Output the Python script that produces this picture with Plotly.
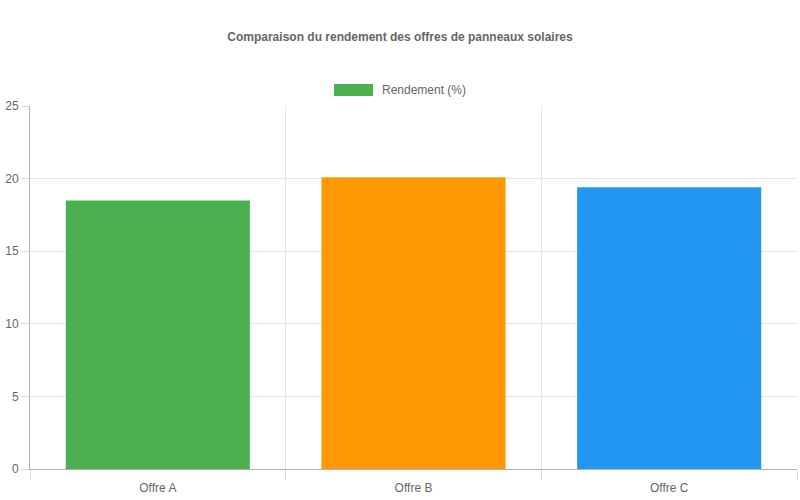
import plotly.graph_objects as go

# Données
offres = ["Offre A", "Offre B", "Offre C"]
rendement = [18.5, 20.1, 19.4]
couleurs = ["#4CAF50", "#FF9800", "#2196F3"]

# Zone de tracé (px dans la page) : x 30..797, y 106..469
fig = go.Figure()

fig.add_trace(go.Bar(
    x=offres,
    y=rendement,
    marker=dict(color=couleurs, line=dict(width=0)),
    name="Rendement (%)",
    showlegend=False,
    hoverinfo="x+y",
))

# Légende façon Chart.js (boîte large + texte)
fig.add_shape(type="rect", xref="paper", yref="paper",
              x0=(334 - 30) / 767, x1=(373 - 30) / 767,
              y0=(469 - 96) / 363, y1=(469 - 84) / 363,
              fillcolor="#4CAF50", line=dict(width=0))
fig.add_annotation(text="Rendement (%)", xref="paper", yref="paper",
                   x=(380 - 30) / 767, y=(469 - 90) / 363,
                   xanchor="left", yanchor="middle", showarrow=False,
                   font=dict(size=12, color="#666666"))

fig.update_layout(
    width=800, height=500,
    margin=dict(l=30, r=3, t=106, b=31),
    paper_bgcolor="white", plot_bgcolor="white",
    font=dict(family="Liberation Sans, Arial, sans-serif", size=12, color="#666666"),
    title=dict(
        text="<b>Comparaison du rendement des offres de panneaux solaires</b>",
        x=0.5, xanchor="center", y=1 - 37 / 500, yanchor="middle",
        font=dict(size=12, color="#666666"),
    ),
    bargap=0.28,
    xaxis=dict(
        tickson="boundaries", showgrid=True, gridcolor="#e6e6e6",
        ticks="outside", ticklen=10, tickcolor="#dcdcdc",
        showline=True, linecolor="#b3b3b3", linewidth=1,
        tickfont=dict(size=12, color="#666666"),
        ticklabelstandoff=8,
        automargin=False,
    ),
    yaxis=dict(
        range=[0, 25], dtick=5, showgrid=True, gridcolor="#e6e6e6",
        ticks="outside", ticklen=8, tickcolor="#dcdcdc",
        showline=True, linecolor="#b3b3b3", linewidth=1,
        zeroline=False,
        tickfont=dict(size=12, color="#666666"),
        automargin=False,
    ),
)

# pas de marge autour du graphique dans la page
fig.write_html("out.html", config={"displayModeBar": False},
               post_script="document.body.style.margin='0';")
